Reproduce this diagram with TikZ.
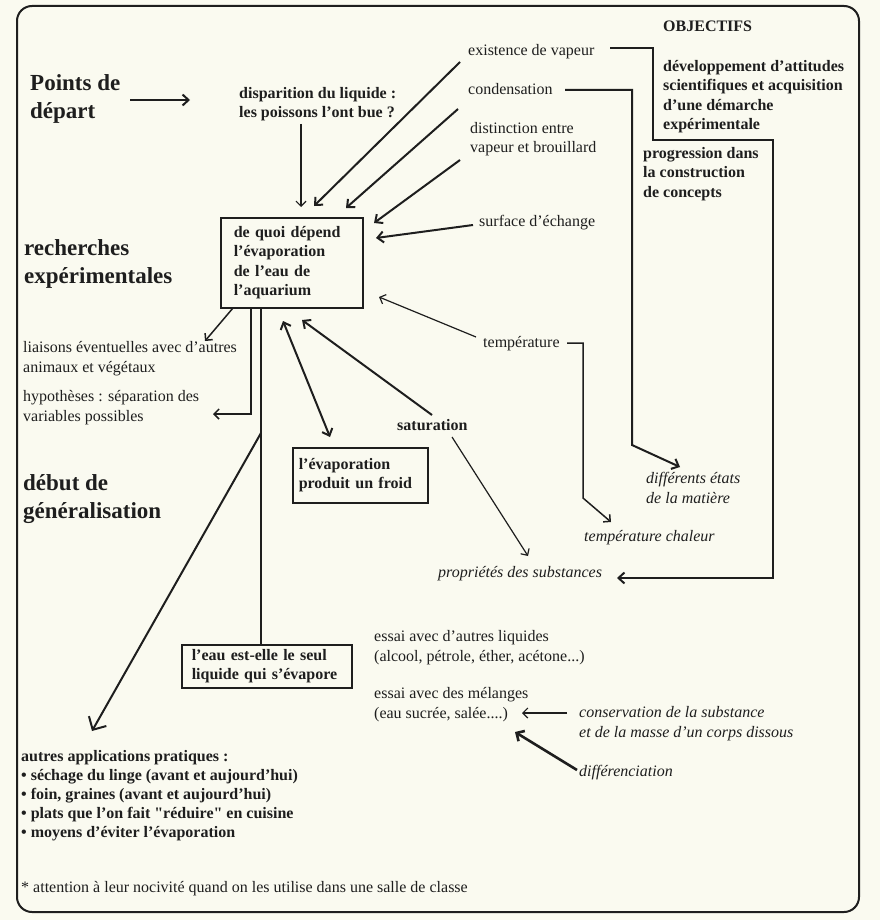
\documentclass[tikz,border=0pt]{standalone}
\usepackage{fontspec}
\setmainfont{Liberation Serif}
\newfontfamily\plainrm{Liberation Serif}
\usetikzlibrary{arrows.meta}
\definecolor{paper}{RGB}{250,250,240}
\definecolor{ink}{RGB}{30,30,30}
\begin{document}
\begin{tikzpicture}[x=1pt,y=-1pt,
  txt/.style={anchor=base west,inner sep=0pt,align=left,text=ink,font=\fontsize{16}{19.5}\selectfont},
  btxt/.style={txt,font=\fontsize{16}{19.5}\selectfont\bfseries},
  itxt/.style={txt,font=\fontsize{16}{19.5}\selectfont\itshape},
  head/.style={txt,font=\fontsize{23}{28}\selectfont\bfseries},
  boxnode/.style={draw=ink,line width=1.5pt,anchor=north west,align=left,text=ink,
    font=\fontsize{16}{19.5}\selectfont\bfseries},
  ln/.style={draw=ink,line width=1.5pt},
  thinarr/.style={draw=ink,line width=1.2pt,-{Straight Barb[length=5pt,width=10pt]}},
  thickarr/.style={draw=ink,line width=2pt,-{Straight Barb[length=6pt,width=11pt]}},
  bigarr/.style={draw=ink,line width=2pt,-{Straight Barb[length=10pt,width=20pt]}},
  boldarr/.style={draw=ink,line width=2.6pt,-{Straight Barb[length=6pt,width=12pt]}},
  dblarr/.style={draw=ink,line width=2pt,{Straight Barb[length=6pt,width=11pt]}-{Straight Barb[length=6pt,width=11pt]}}
]
\useasboundingbox (0,0) rectangle (880,920);
\fill[paper] (0,0) rectangle (880,920);
\draw[ink,line width=2pt,rounded corners=15pt] (17,6) rectangle (859,912);

% headings (base anchor = baseline of last line)
\node[head] (pd) at (30,119) {Points de\\départ};
\node[head] (rech) at (24,283) {recherches\\expérimentales};
\node[head] (debut) at (23,518) {début de\\généralisation};

% top texts
\node[btxt] (disp) at (239,118) {disparition du liquide :\\les poissons l'ont bue ?};
\node[txt] (exist) at (468,56) {existence de vapeur};
\node[txt] (cond) at (468,95) {condensation};
\node[txt] (dist) at (470,153) {distinction entre\\vapeur et brouillard};
\node[txt] (surf) at (479,226) {surface d'échange};
\node[btxt] (obj) at (663,32) {OBJECTIFS};
\node[btxt] (dev) at (663,130) {développement d'attitudes\\scientifiques et acquisition\\d'une démarche\\expérimentale};
\node[btxt] (prog) at (643,197) {progression dans\\la construction\\de concepts};

% boxes
\node[boxnode,inner xsep=13pt,text width=116pt,minimum width=142pt,minimum height=90pt] (central) at (220,217)
  {de quoi dépend\\l'évaporation\\de l'eau de\\l'aquarium};
\node[boxnode,inner xsep=6pt,text width=123pt,minimum width=135pt,minimum height=55pt] (froid) at (292,447)
  {l'évaporation\\produit un froid};
\node[boxnode,inner xsep=10pt,text width=150pt,minimum width=170pt,minimum height=43pt] (eau) at (181,644)
  {l'eau est-elle le seul\\liquide qui s'évapore};

% middle texts
\node[txt] (temp) at (483,347) {température};
\node[btxt] (sat) at (397,430) {saturation};
\node[itxt] (etats) at (646,503) {différents états\\de la matière};
\node[itxt] (tchal) at (584,541) {température chaleur};
\node[itxt] (prop) at (438,577) {propriétés des substances};
\node[txt] (liais) at (23,372) {liaisons éventuelles avec d'autres\\animaux et végétaux};
\node[txt] (hyp) at (23,421) {hypothèses : séparation des\\variables possibles};

% bottom texts
\node[txt] (essai1) at (374,661) {essai avec d'autres liquides\\(alcool, pétrole, éther, acétone...)};
\node[txt] (essai2) at (374,718) {essai avec des mélanges\\(eau sucrée, salée....)};
\node[itxt] (cons) at (579,737) {conservation de la substance\\et de la masse d'un corps dissous};
\node[itxt] (diff) at (579,776) {différenciation};
\node[btxt,font=\fontsize{16}{19}\selectfont\bfseries] (autres) at (21,837) {autres applications pratiques :\\• séchage du linge (avant et aujourd'hui)\\• foin, graines (avant et aujourd'hui)\\• plats que l'on fait {\plainrm\bfseries "réduire"} en cuisine\\• moyens d'éviter l'évaporation};
\node[txt] (foot) at (21,892) {* attention à leur nocivité quand on les utilise dans une salle de classe};

% connector points
\coordinate (pa1) at (130,100); \coordinate (pa2) at (190,100);
\coordinate (d1) at (301,124); \coordinate (d2) at (301,207);
\coordinate (e1) at (460,62); \coordinate (e2) at (314,206);
\coordinate (k1) at (458,109); \coordinate (k2) at (346,208);
\coordinate (s1) at (460,160); \coordinate (s2) at (374,223);
\coordinate (f1) at (473,225); \coordinate (f2) at (376,238);
\coordinate (t1) at (476,337); \coordinate (t2) at (379,297);
\coordinate (sa1) at (432,415); \coordinate (sa2) at (302,320);
\coordinate (db1) at (283,321); \coordinate (db2) at (330,437);
\coordinate (sp1) at (452,437); \coordinate (sp2) at (528,556);
\coordinate (l1) at (233,308); \coordinate (l2) at (205,341);
\coordinate (h1) at (251,307); \coordinate (h2) at (213,414);
\coordinate (v1) at (261,307); \coordinate (v2) at (261,644);
\coordinate (g1) at (261,433); \coordinate (g2) at (92,731);
\coordinate (oe1) at (610,48); \coordinate (oe2) at (653,140); \coordinate (oe3) at (773,578); \coordinate (oe4) at (617,578);
\coordinate (oc1) at (565,90); \coordinate (oc2) at (632,445); \coordinate (oc3) at (680,467);
\coordinate (ot1) at (567,343); \coordinate (ot2) at (583,498); \coordinate (ot3) at (611,522);
\coordinate (cs1) at (567,713); \coordinate (cs2) at (522,713);
\coordinate (df1) at (577,770); \coordinate (df2) at (515,732);

% connectors
\draw[thickarr] (pa1) -- (pa2);
\draw[thinarr] (d1) -- (d2);
\draw[thickarr] (e1) -- (e2);
\draw[thickarr] (k1) -- (k2);
\draw[thickarr] (s1) -- (s2);
\draw[thickarr] (f1) -- (f2);
\draw[thinarr] (t1) -- (t2);
\draw[thickarr] (sa1) -- (sa2);
\draw[dblarr] (db1) -- (db2);
\draw[thinarr] (sp1) -- (sp2);
\draw[thinarr,line width=1.5pt] (l1) -- (l2);
\draw[thinarr,line width=1.5pt] (h1) |- (h2);
\draw[ln,line width=1.3pt] (v1) -- (v2);
\draw[bigarr] (g1) -- (g2);
\draw[thickarr] (oe1) -| (oe2) -| (oe3) -- (oe4);
\draw[thickarr] (oc1) -| (oc2) -- (oc3);
\draw[thinarr,line width=1.5pt] (ot1) -| (ot2) -- (ot3);
\draw[thinarr] (cs1) -- (cs2);
\draw[boldarr] (df1) -- (df2);
\end{tikzpicture}
\end{document}
